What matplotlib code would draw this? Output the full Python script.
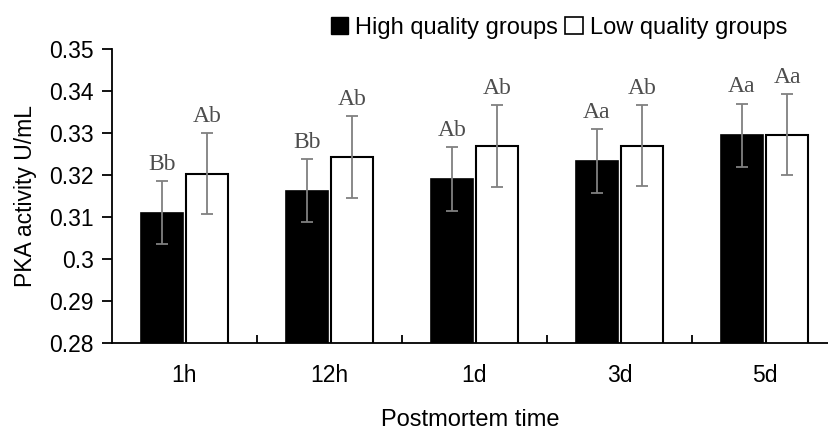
import numpy as np
import matplotlib.pyplot as plt
from matplotlib.patches import Patch
from matplotlib.ticker import FuncFormatter, FixedLocator

plt.rcParams['font.family'] = ['Liberation Sans', 'DejaVu Sans']

# data
times = ['1h', '12h', '1d', '3d', '5d']
high = [0.3110, 0.3162, 0.3190, 0.3234, 0.3295]
high_err = [0.0075, 0.0075, 0.0076, 0.0076, 0.0075]
low = [0.3203, 0.3243, 0.3269, 0.3270, 0.3296]
low_err = [0.0097, 0.0097, 0.0097, 0.0097, 0.0096]
high_lab = ['Bb', 'Bb', 'Ab', 'Aa', 'Aa']
low_lab = ['Ab', 'Ab', 'Ab', 'Ab', 'Aa']

fig = plt.figure(figsize=(8.29, 4.30), dpi=100)
ax = fig.add_axes([112/829, 1-343/430, 1-112/829, (343-49)/430])

x = np.arange(len(times))
w = 0.29
off = 0.157
ekw = dict(ecolor='#808080', elinewidth=1.3, capsize=4, capthick=1.3)
ax.bar(x - off, high, w, color='black', edgecolor='black', linewidth=1.2,
       yerr=high_err, error_kw=ekw, zorder=2)
ax.bar(x + off, low, w, color='white', edgecolor='black', linewidth=1.5,
       yerr=low_err, error_kw=ekw, zorder=2)

for i in range(len(times)):
    ax.annotate(high_lab[i], (x[i] - off, high[i] + high_err[i]), xytext=(0, 8),
                textcoords='offset points', ha='center', va='baseline',
                fontsize=17, family='Liberation Serif', color='#4d4d4d')
    ax.annotate(low_lab[i], (x[i] + off, low[i] + low_err[i]), xytext=(0, 8),
                textcoords='offset points', ha='center', va='baseline',
                fontsize=17, family='Liberation Serif', color='#4d4d4d')

ax.set_ylim(0.28, 0.35)
ax.set_xlim(-0.5, 4.445)
ax.set_yticks(np.arange(0.28, 0.3501, 0.01))
ax.yaxis.set_major_formatter(FuncFormatter(lambda v, p: f'{v:g}'))
ax.set_xticks(x)
ax.set_xticklabels(times)
ax.xaxis.set_minor_locator(FixedLocator([0.5, 1.5, 2.5, 3.5]))
ax.tick_params(axis='x', which='major', length=0, pad=15, labelsize=16.5)
ax.tick_params(axis='x', which='minor', direction='in', length=6, width=1.3)
ax.tick_params(axis='y', direction='out', length=7, width=1.3, labelsize=16.5, pad=6)

for s in ['top', 'right']:
    ax.spines[s].set_visible(False)
for s in ['left', 'bottom']:
    ax.spines[s].set_linewidth(1.3)

ax.set_ylabel('PKA activity U/mL', fontsize=16.5, labelpad=9)
ax.set_xlabel('Postmortem time', fontsize=17, labelpad=16)

handles = [Patch(facecolor='black', edgecolor='black'),
           Patch(facecolor='white', edgecolor='black', linewidth=1.2)]
fig.legend(handles, ['High quality groups', 'Low quality groups'], ncol=2,
           loc='upper right', bbox_to_anchor=(804/829, 1.0), frameon=False,
           fontsize=17, handlelength=0.75, handleheight=0.75, handletextpad=0.3,
           columnspacing=0.3, borderpad=0.2)

fig.savefig('out.png', dpi=100)
